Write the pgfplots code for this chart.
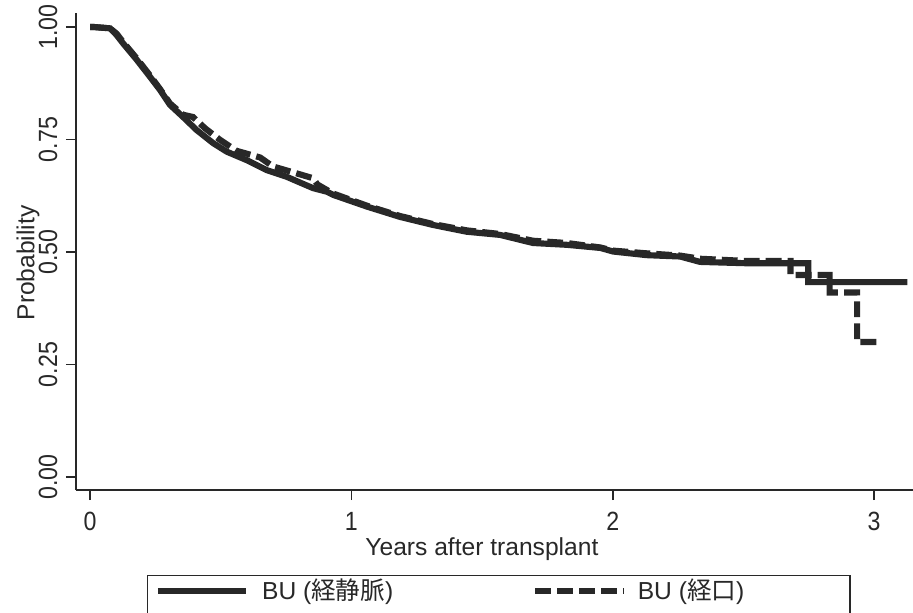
\documentclass[border=0pt]{standalone}
\usepackage{fontspec}
\setmainfont{Liberation Sans}
\newfontfamily\narrow{Liberation Sans}[FakeStretch=0.88]
\newfontfamily\cjk{Noto Sans CJK JP}
\usepackage{pgfplots}
\pgfplotsset{compat=1.18}
\definecolor{ink}{RGB}{40,40,40}

\begin{document}
\fontsize{14}{16}\selectfont
\begin{tikzpicture}
\useasboundingbox (0,0) rectangle (18.26cm,12.26cm);
\clip (0,0) rectangle (18.26cm,12.26cm);
\begin{axis}[
at={(1.52cm,2.46cm)}, anchor=south west,
scale only axis,
width=16.74cm, height=9.54cm,
xmin=-0.0536, xmax=3.149,
ymin=-0.0289, ymax=1.0311,
axis x line=bottom, axis y line=left,
axis line style={-, ink, line width=0.9pt},
tick align=outside, major tick length=0.2cm,
tick style={ink, line width=0.9pt},
xtick={0,1,2,3},
ytick={0,0.25,0.5,0.75,1},
/pgf/number format/assume math mode=true,
tick label style={font=\narrow\fontsize{15}{17}\selectfont},
yticklabel style={rotate=90, anchor=south, text=ink,
  /pgf/number format/.cd, fixed, fixed zerofill, precision=2},
xticklabel style={text=ink, yshift=-0.08cm},
xlabel={Years after transplant},
ylabel={Probability},
xlabel style={at={(axis description cs:0.485,-0.123)}, anchor=center, text=ink},
ylabel style={at={(axis description cs:-0.0573,0.476)}, anchor=center, text=ink},
legend columns=2,
legend style={at={(axis description cs:0.0848,-0.178)}, anchor=north west,
  draw=ink, line width=0.8pt, text=ink,
  inner xsep=4pt, inner ysep=1pt,
  nodes={inner xsep=3pt, inner ysep=1pt, text depth=0.7cm},
  /tikz/every even column/.append style={column sep=0.2cm}},
legend cell align=left,
legend image code/.code={\draw[#1] (0cm,0.32cm) -- (1.76cm,0.32cm);},
]
\addplot[ink, line width=3.5pt] coordinates {
(0,1.0) (0.013,1.0) (0.077,0.997) (0.102,0.982) (0.126,0.964) (0.179,0.927)
(0.230,0.889) (0.268,0.860) (0.306,0.827) (0.356,0.800) (0.408,0.771)
(0.471,0.742) (0.523,0.723) (0.600,0.704) (0.676,0.682) (0.753,0.667)
(0.853,0.642) (0.906,0.634) (0.930,0.627) (1.059,0.601) (1.186,0.578)
(1.313,0.560) (1.442,0.545) (1.569,0.538) (1.695,0.520) (1.824,0.516)
(1.953,0.509) (2.002,0.501) (2.130,0.493) (2.258,0.490) (2.334,0.478)
(2.513,0.475) (2.748,0.475) (2.748,0.433) (3.127,0.433)
};
\addlegendentry{\hspace{0.16cm}\makebox[5.1cm][l]{BU ({\cjk 経静脈})}}
\addplot[ink, line width=3.5pt, dash pattern=on 9pt off 3.5pt] coordinates {
(0,1.0) (0.013,1.0) (0.077,0.997) (0.102,0.985) (0.126,0.967) (0.179,0.930)
(0.230,0.892) (0.268,0.862) (0.306,0.830) (0.356,0.805) (0.394,0.800)
(0.440,0.775) (0.498,0.749) (0.560,0.725) (0.651,0.710) (0.700,0.690)
(0.760,0.680) (0.853,0.664) (0.870,0.650) (0.930,0.630) (1.059,0.603)
(1.186,0.580) (1.313,0.562) (1.442,0.548) (1.569,0.540) (1.695,0.525)
(1.824,0.520) (1.953,0.510) (2.002,0.503) (2.130,0.497) (2.258,0.492)
(2.334,0.485) (2.513,0.480) (2.680,0.480) (2.680,0.449) (2.830,0.449)
(2.830,0.410) (2.935,0.410) (2.935,0.300) (3.030,0.300)
};
\addlegendentry{\hspace{0.12cm}\makebox[4.0cm][l]{BU ({\cjk 経口})}}
\end{axis}
\end{tikzpicture}
\end{document}
